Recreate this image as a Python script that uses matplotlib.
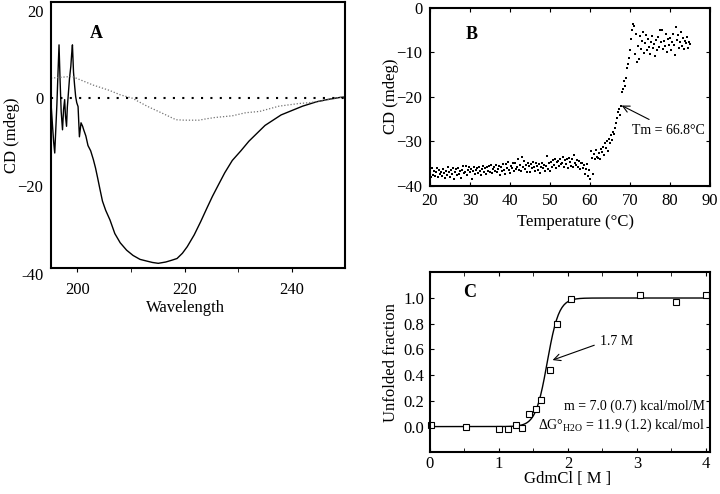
import numpy as np
import matplotlib
matplotlib.use("Agg")
import matplotlib.pyplot as plt

plt.rcParams['font.family'] = ['Liberation Serif', 'DejaVu Serif']
plt.rcParams['mathtext.fontset'] = 'custom'
plt.rcParams['mathtext.rm'] = 'Liberation Serif'
plt.rcParams['font.size'] = 12

# --- Panel A: CD spectra ---
wl_solid = [195.1, 195.4, 195.6, 195.8, 196.0, 196.2, 196.4, 196.6, 196.8, 197.0,
            197.25, 197.45, 197.65, 197.8, 198.0, 198.15, 198.3, 198.55, 198.8, 198.95,
            199.1, 199.3, 199.5, 199.7, 199.9, 200.15, 200.4, 200.7, 201.0, 201.2,
            201.6, 202.0, 202.5, 203.0, 203.4, 203.8, 204.2, 204.7, 205.3, 206.1,
            207.0, 208.0, 209.2, 210.4, 211.7, 213.0, 214.0, 215.1, 216.5, 217.6,
            218.6, 219.6, 220.5, 221.8, 223.0, 224.2, 225.2, 226.3, 227.5, 228.9,
            230.5, 232.0, 233.5, 235.0, 236.5, 238.0, 240.2, 242.0, 244.6, 247.0,
            249.0, 250.0]
cd_solid = [-1.0, -6.5, -10.0, -12.5, -7.0, -1.5, 5.5, 12.2, 4.0, -3.0,
            -7.2, -2.5, -0.3, -4.0, -6.4, -2.0, 0.4, 4.5, 7.3, 10.0,
            12.2, 6.0, 3.0, 0.4, -1.0, -1.9, -8.8, -5.6, -6.4, -7.2,
            -8.6, -10.8, -12.0, -14.0, -15.9, -18.2, -20.6, -23.5, -25.6, -27.8,
            -30.9, -33.0, -34.7, -35.9, -36.8, -37.2, -37.5, -37.7, -37.4, -37.0,
            -36.6, -35.4, -33.9, -31.2, -28.2, -25.0, -22.4, -19.8, -17.0, -14.2,
            -12.0, -9.8, -8.0, -6.2, -5.0, -3.8, -2.7, -1.8, -0.8, -0.2,
            0.2, 0.3]

wl_dotted = [195.1, 197.0, 199.0, 200.0, 203.0, 206.0, 208.0, 210.3, 213.0, 216.0,
             218.4, 220.0, 222.7, 224.0, 225.6, 228.9, 231.4, 234.0, 237.6, 241.3,
             243.3, 246.0, 249.0, 250.0]
cd_dotted = [4.6, 4.8, 5.0, 4.5, 3.0, 1.8, 0.8, 0.0, -1.8, -3.5,
             -4.9, -5.0, -5.0, -4.7, -4.4, -4.0, -3.3, -3.0, -1.8, -1.2,
             -1.0, -0.5, 0.2, 0.2]

# --- Panel B: thermal melt ---
temp_b = [20.0, 20.25, 20.5, 20.75, 21.0, 21.25, 21.5, 21.75, 22.0, 22.25, 22.5, 22.75,
          23.0, 23.25, 23.5, 23.75, 24.0, 24.25, 24.5, 24.75, 25.0, 25.25, 25.5, 25.75,
          26.0, 26.25, 26.5, 26.75, 27.0, 27.25, 27.5, 27.75, 28.0, 28.25, 28.5, 28.75,
          29.0, 29.25, 29.5, 29.75, 30.0, 30.25, 30.5, 30.75, 31.0, 31.25, 31.5, 31.75,
          32.0, 32.25, 32.5, 32.75, 33.0, 33.25, 33.5, 33.75, 34.0, 34.25, 34.5, 34.75,
          35.0, 35.25, 35.5, 35.75, 36.0, 36.25, 36.5, 36.75, 37.0, 37.25, 37.5, 37.75,
          38.0, 38.25, 38.5, 38.75, 39.0, 39.25, 39.5, 39.75, 40.0, 40.25, 40.5, 40.75,
          41.0, 41.25, 41.5, 41.75, 42.0, 42.25, 42.5, 42.75, 43.0, 43.25, 43.5, 43.75,
          44.0, 44.25, 44.5, 44.75, 45.0, 45.25, 45.5, 45.75, 46.0, 46.25, 46.5, 46.75,
          47.0, 47.25, 47.5, 47.75, 48.0, 48.25, 48.5, 48.75, 49.0, 49.25, 49.5, 49.75,
          50.0, 50.25, 50.5, 50.75, 51.0, 51.25, 51.5, 51.75, 52.0, 52.25, 52.5, 52.75,
          53.0, 53.25, 53.5, 53.75, 54.0, 54.25, 54.5, 54.75, 55.0, 55.25, 55.5, 55.75,
          56.0, 56.25, 56.5, 56.75, 57.0, 57.25, 57.5, 57.75, 58.0, 58.25, 58.5, 58.75,
          59.0, 59.25, 59.5, 59.75, 60.0, 60.25, 60.5, 60.75, 61.0, 61.25, 61.5, 61.75,
          62.0, 62.25, 62.5, 62.75, 63.0, 63.25, 63.5, 63.75, 64.0, 64.25, 64.5, 64.75,
          65.0, 65.25, 65.5, 65.75, 66.0, 66.25, 66.5, 66.75, 67.0, 67.25, 67.5, 67.75,
          68.0, 68.25, 68.5, 68.75, 69.0, 69.25, 69.5, 69.75, 70.0, 70.25, 70.5, 70.75,
          71.0, 71.25, 71.5, 71.75, 72.0, 72.25, 72.5, 72.75, 73.0, 73.25, 73.5, 73.75,
          74.0, 74.25, 74.5, 74.75, 75.0, 75.25, 75.5, 75.75, 76.0, 76.25, 76.5, 76.75,
          77.0, 77.25, 77.5, 77.75, 78.0, 78.25, 78.5, 78.75, 79.0, 79.25, 79.5, 79.75,
          80.0, 80.25, 80.5, 80.75, 81.0, 81.25, 81.5, 81.75, 82.0, 82.25, 82.5, 82.75,
          83.0, 83.25, 83.5, 83.75, 84.0, 84.25, 84.5, 84.75, 85.0]
cd_b = [-37.2, -38.0, -36.1, -37.6, -36.8, -37.9, -37.0, -36.0, -38.1, -36.5, -37.4, -36.9,
        -37.8, -36.2, -37.1, -38.3, -36.6, -37.5, -35.9, -37.0, -38.0, -36.4, -37.3, -36.1,
        -38.6, -37.0, -36.3, -37.7, -36.0, -37.4, -36.8, -38.2, -36.5, -35.6, -37.2, -36.9,
        -35.5, -37.6, -36.4, -35.9, -37.0, -36.2, -38.5, -36.7, -35.8, -37.3, -36.5, -36.0,
        -37.1, -35.9, -36.8, -37.5, -36.3, -35.6, -37.0, -36.1, -37.4, -35.8, -36.6, -35.5,
        -36.9, -35.4, -37.2, -36.3, -35.7, -36.8, -35.3, -37.0, -36.2, -35.6, -37.6, -35.9,
        -36.7, -35.2, -36.4, -37.3, -35.1, -36.0, -34.7, -36.5, -37.2, -35.5, -36.1, -35.0,
        -36.6, -34.9, -36.3, -35.7, -34.0, -36.4, -35.3, -36.8, -33.6, -35.9, -34.5, -36.2,
        -35.4, -36.9, -34.8, -35.6, -37.0, -35.2, -36.0, -34.6, -35.8, -36.6, -34.9, -35.5,
        -36.4, -35.1, -37.2, -35.7, -34.8, -36.0, -35.3, -36.7, -35.6, -33.3, -36.2, -35.0,
        -36.8, -34.6, -35.8, -34.2, -35.3, -34.0, -36.1, -34.7, -34.4, -35.6, -33.9, -35.1,
        -34.9, -33.6, -35.8, -34.3, -35.2, -34.0, -36.0, -33.8, -34.6, -35.5, -34.1, -35.9,
        -33.0, -34.8, -35.4, -34.2, -35.7, -34.5, -36.3, -35.0, -34.9, -36.0, -35.4, -37.3,
        -36.2, -35.1, -37.8, -36.5, -38.6, -32.3, -33.8, -37.4, -32.9, -34.1, -32.0, -33.5,
        -33.8, -32.6, -34.0, -31.8, -32.4, -31.2, -33.0, -30.5, -31.6, -30.0, -32.2, -29.4,
        -30.3, -28.6, -29.8, -27.9, -28.3, -27.0, -26.0, -24.8, -23.5, -22.8, -24.2, -22.1,
        -19.0, -18.2, -16.4, -17.6, -15.8, -13.5, -12.6, -11.4, -9.6, -7.0, -5.1, -3.6,
        -4.2, -10.4, -5.8, -12.2, -8.5, -11.6, -6.3, -9.2, -7.4, -5.5, -10.1, -8.0,
        -6.2, -9.4, -7.0, -8.8, -10.3, -7.7, -6.4, -9.0, -8.1, -10.8, -7.3, -9.6,
        -6.6, -8.9, -4.9, -7.8, -5.0, -9.2, -7.4, -8.6, -6.0, -10.0, -7.1, -8.3,
        -6.8, -9.5, -7.6, -5.9, -8.4, -10.6, -4.4, -7.2, -6.1, -9.1, -7.8, -5.5,
        -8.7, -6.9, -9.3, -7.5, -8.0, -6.5, -9.0, -7.7, -8.2]

# --- Panel C: GdmCl denaturation ---
gdm_c = [0.02, 0.52, 1.0, 1.135, 1.24, 1.34, 1.44, 1.54, 1.61, 1.74, 1.84, 2.05, 3.04, 3.56, 4.0]
frac_c = [0.013, -0.005, -0.016, -0.016, 0.013, -0.008, 0.096, 0.14, 0.21, 0.44, 0.80, 0.99, 1.02, 0.97, 1.02]
m_value = 7.0      # kcal/mol/M
dg_h2o = 11.9      # kcal/mol
RT = 0.593         # kcal/mol at 25 C

fig = plt.figure(figsize=(7.2, 4.94), dpi=100)
axA = fig.add_axes([0.0708, 0.4581, 0.4083, 0.5379])
axB = fig.add_axes([0.5972, 0.6241, 0.3889, 0.3603])
axC = fig.add_axes([0.5972, 0.0844, 0.3889, 0.3644])

for ax in (axA, axB, axC):
    for s in ax.spines.values():
        s.set_linewidth(1.5)

# Panel A
axA.plot(wl_solid, cd_solid, color='black', lw=1.0)
axA.plot(wl_dotted, cd_dotted, color='0.45', lw=0.9, linestyle=(0, (1, 1.5)))
axA.axhline(0, color='black', lw=1.5, linestyle=(0, (1, 3.5)))
axA.set_xlim(195.1, 249.9)
axA.set_ylim(-38.7, 22.0)
axA.set_xticks([200, 220, 240])
axA.set_xticks([210, 230], minor=True)
axA.set_yticks([-20, 0, 20])
axA.tick_params(axis='y', length=0, pad=5.5, labelsize=12)
axA.tick_params(axis='x', which='both', direction='out', length=3, pad=7, labelsize=12)
axA.annotate('-40', xy=(0, -40.5), xycoords=('axes fraction', 'data'),
             xytext=(-5.5, 0), textcoords='offset points', ha='right', va='center',
             fontsize=12, annotation_clip=False)
axA.text(203.5, 14.9, 'A', fontsize=13, fontweight='bold', ha='center', va='center')
axA.set_xlabel('Wavelength', fontsize=12)
axA.set_ylabel('CD (mdeg)', fontsize=12)
axA.xaxis.set_label_coords(0.456, -0.12)
axA.yaxis.set_label_coords(-0.105, 0.5)

# Panel B
axB.scatter(temp_b, cd_b, s=3, marker='s', color='black', linewidths=0)
axB.set_xlim(20, 90)
axB.set_ylim(-40, 0)
axB.set_xticks([20, 30, 40, 50, 60, 70, 80, 90])
axB.set_yticks([-40, -30, -20, -10, 0])
axB.tick_params(direction='in', length=3, top=True, right=True, labelsize=12)
axB.tick_params(axis='x', pad=5)
axB.tick_params(axis='y', pad=5.5)
axB.text(30.4, -6.1, 'B', fontsize=13, fontweight='bold', ha='center', va='center')
axB.annotate('', xy=(67.3, -21.7), xytext=(75.4, -25.4),
             arrowprops=dict(arrowstyle='->', color='black', lw=0.8))
axB.text(70.4, -27.5, 'Tm = 66.8°C', fontsize=10, ha='left', va='center')
axB.set_xlabel('Temperature (°C)', fontsize=12)
axB.set_ylabel('CD (mdeg)', fontsize=12)
axB.xaxis.set_label_coords(0.518, -0.159)
axB.yaxis.set_label_coords(-0.112, 0.5)

# Panel C
gx = np.linspace(0, 4.06, 300)
fit = 1.0 / (1.0 + np.exp((dg_h2o - m_value * gx) / RT))
axC.plot(gx, fit, color='black', lw=1.0)
axC.plot(gdm_c, frac_c, linestyle='none', marker='s', ms=4.5, mfc='white',
         mec='black', mew=0.8, clip_on=False)
axC.set_xlim(0, 4.06)
axC.set_ylim(-0.2, 1.2)
axC.set_xticks([0, 1, 2, 3, 4])
axC.set_xticks([0.5, 1.5, 2.5, 3.5], minor=True)
axC.set_yticks([0.0, 0.2, 0.4, 0.6, 0.8, 1.0])
axC.set_yticklabels(['0.0', '0.2', '0.4', '0.6', '0.8', '1.0'])
axC.tick_params(which='both', direction='in', length=3, top=True, right=True, labelsize=12)
axC.tick_params(axis='x', pad=2.5)
axC.tick_params(axis='y', pad=4)
axC.text(0.58, 1.04, 'C', fontsize=13, fontweight='bold', ha='center', va='center')
axC.annotate('', xy=(1.74, 0.51), xytext=(2.42, 0.64),
             arrowprops=dict(arrowstyle='->', color='black', lw=0.8))
axC.text(2.46, 0.66, '1.7 M', fontsize=10, ha='left', va='center')
axC.text(3.99, 0.156, 'm = 7.0 (0.7) kcal/mol/M', fontsize=10, ha='right', va='center')
axC.text(3.99, 0.013, r'ΔG°$_{\rm H2O}$ = 11.9 (1.2) kcal/mol', fontsize=10,
         ha='right', va='center')
axC.set_xlabel('GdmCl [ M ]', fontsize=12)
axC.set_ylabel('Unfolded fraction', fontsize=12)
axC.xaxis.set_label_coords(0.49, -0.105)
axC.yaxis.set_label_coords(-0.11, 0.5)

fig.savefig('out.png', dpi=100)
